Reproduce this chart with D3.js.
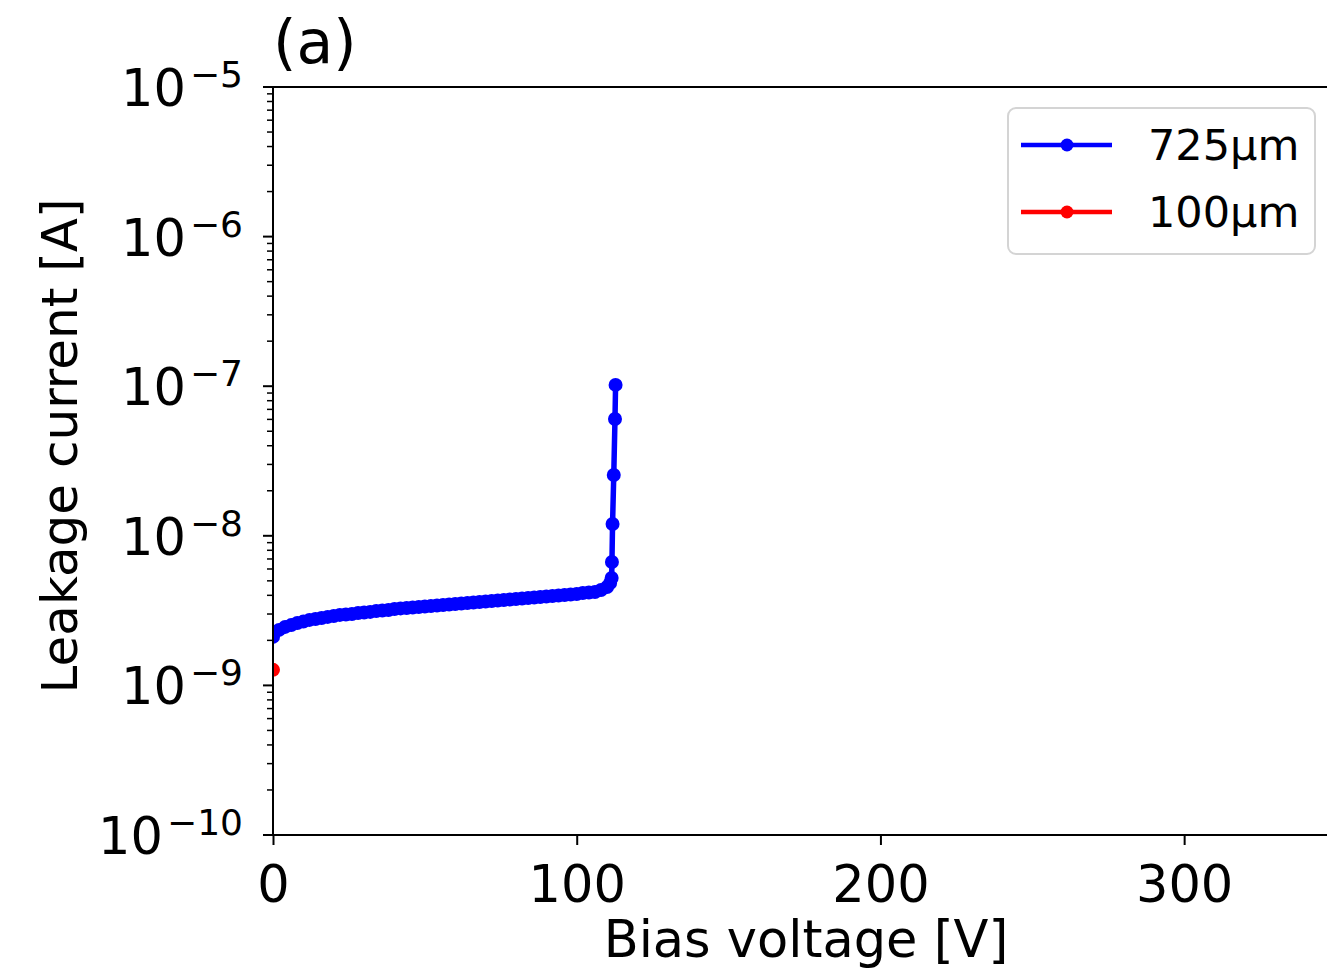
<!DOCTYPE html>
<html>
<head>
<meta charset="utf-8">
<script src="https://cdn.jsdelivr.net/npm/d3@7"></script>
<style>
  body { margin: 0; background: #fff; }
  text { font-family: "DejaVu Sans", sans-serif; fill: #000; }
</style>
</head>
<body>
<div id="chart"></div>
<script>
// values
let voltage725 = [0, 2, 4, 6, 8, 10, 12, 14, 16, 18, 20, 22, 24, 26, 28, 30, 32, 34, 36, 38,
  40, 42, 44, 46, 48, 50, 52, 54, 56, 58, 60, 62, 64, 66, 68, 70, 72, 74, 76, 78,
  80, 82, 84, 86, 88, 90, 92, 94, 96, 98, 100, 102, 104, 106, 108, 110, 111,
  111.5, 111.6, 111.8, 112.2, 112.6, 112.8];
let current725 = [2.11e-9, 2.35e-9, 2.46e-9, 2.53e-9, 2.61e-9, 2.67e-9, 2.74e-9, 2.78e-9, 2.82e-9, 2.87e-9,
  2.91e-9, 2.96e-9, 2.98e-9, 3.00e-9, 3.05e-9, 3.07e-9, 3.10e-9, 3.14e-9, 3.17e-9, 3.19e-9,
  3.24e-9, 3.27e-9, 3.29e-9, 3.32e-9, 3.34e-9, 3.37e-9, 3.39e-9, 3.42e-9, 3.45e-9, 3.47e-9,
  3.50e-9, 3.53e-9, 3.55e-9, 3.58e-9, 3.61e-9, 3.64e-9, 3.67e-9, 3.69e-9, 3.72e-9, 3.75e-9,
  3.78e-9, 3.81e-9, 3.84e-9, 3.87e-9, 3.90e-9, 3.93e-9, 3.96e-9, 3.99e-9, 4.02e-9, 4.05e-9,
  4.08e-9, 4.15e-9, 4.18e-9, 4.21e-9, 4.34e-9, 4.55e-9, 4.84e-9,
  5.22e-9, 6.68e-9, 1.20e-8, 2.55e-8, 6.04e-8, 1.02e-7];
let voltage100 = [0];
let current100 = [1.27e-9];

let seriesNames = ["725µm", "100µm"];
let seriesColors = ["#0000ff", "#ff0000"];
let xTicks = [0, 100, 200, 300];
let yDecades = [-10, -9, -8, -7, -6, -5];

let margin = { top: 87, left: 273, right: 0, bottom: 145 },
    width = 1063,
    height = 748;

let svg = d3.select("#chart").append("svg")
  .attr("width", 1327)
  .attr("height", 980);

let g = svg.append("g")
  .attr("transform", "translate(" + margin.left + "," + margin.top + ")");

let xScale = d3.scaleLinear().domain([0, 350]).range([0, width]);
let yScale = d3.scaleLog().domain([1e-10, 1e-5]).range([height, 0]);

g.append("clipPath").attr("id", "plotclip")
  .append("rect").attr("width", width).attr("height", height);

// data
let series = [
  { name: seriesNames[0], color: seriesColors[0], pts: voltage725.map((v, i) => [v, current725[i]]) },
  { name: seriesNames[1], color: seriesColors[1], pts: voltage100.map((v, i) => [v, current100[i]]) }
];

let line = d3.line()
  .x(d => xScale(d[0]))
  .y(d => yScale(d[1]));

let dataG = g.append("g").attr("clip-path", "url(#plotclip)");
series.forEach(s => {
  dataG.append("path")
    .datum(s.pts)
    .attr("d", line)
    .attr("fill", "none")
    .attr("stroke", s.color)
    .attr("stroke-width", 5.5)
    .attr("stroke-linejoin", "round");
  dataG.selectAll(null)
    .data(s.pts)
    .enter().append("circle")
    .attr("cx", d => xScale(d[0]))
    .attr("cy", d => yScale(d[1]))
    .attr("r", 7)
    .attr("fill", s.color);
});

// x axis
let xAxis = g.append("g")
  .attr("transform", "translate(0," + height + ")")
  .call(d3.axisBottom(xScale).tickValues(xTicks).tickSize(10).tickPadding(8).tickFormat(d3.format("d")));
xAxis.select(".domain").remove();
xAxis.selectAll(".tick line").attr("stroke", "#000").attr("stroke-width", 2);
xAxis.selectAll(".tick text")
  .attr("font-size", 51)
  .attr("font-family", "DejaVu Sans")
  .attr("dy", null)
  .attr("y", 67);

// y axis: major and minor ticks
let minor = [];
yDecades.slice(0, -1).forEach(e => {
  for (let k = 2; k <= 9; k++) minor.push(k * Math.pow(10, e));
});
g.append("g").selectAll("line")
  .data(minor)
  .enter().append("line")
  .attr("x1", -6).attr("x2", 0)
  .attr("y1", d => yScale(d)).attr("y2", d => yScale(d))
  .attr("stroke", "#000").attr("stroke-width", 1.5);

let yMajor = g.append("g").selectAll("g")
  .data(yDecades)
  .enter().append("g")
  .attr("transform", d => "translate(0," + yScale(Math.pow(10, d)) + ")");
yMajor.append("line")
  .attr("x1", -10).attr("x2", 0)
  .attr("stroke", "#000").attr("stroke-width", 2);
let yLab = yMajor.append("text")
  .attr("x", -30)
  .attr("y", 19)
  .attr("text-anchor", "end");
yLab.append("tspan").attr("font-size", 51).text("10");
yLab.append("tspan").attr("font-size", 36).attr("dx", 4).attr("dy", -19)
  .text(d => "\u2212" + Math.abs(d));

// spines (right one falls outside the picture)
g.append("rect")
  .attr("width", width).attr("height", height)
  .attr("fill", "none")
  .attr("stroke", "#000")
  .attr("stroke-width", 2);

// labels
svg.append("text")
  .attr("x", 806)
  .attr("y", 957)
  .attr("text-anchor", "middle")
  .attr("font-size", 51)
  .text("Bias voltage [V]");

svg.append("text")
  .attr("transform", "translate(77,446) rotate(-90)")
  .attr("text-anchor", "middle")
  .attr("font-size", 50)
  .text("Leakage current [A]");

svg.append("text")
  .attr("x", 273)
  .attr("y", 63)
  .attr("font-size", 60)
  .text("(a)");

// legend
let legend = svg.append("g").attr("transform", "translate(1008,108)");
legend.append("rect")
  .attr("width", 307).attr("height", 146)
  .attr("rx", 8)
  .attr("fill", "#fff").attr("fill-opacity", 0.8)
  .attr("stroke", "#d4d4d4").attr("stroke-width", 2);
let items = legend.selectAll(".item")
  .data(series)
  .enter().append("g")
  .attr("class", "item")
  .attr("transform", (d, i) => "translate(0," + (37 + i * 67) + ")");
items.append("line")
  .attr("x1", 13).attr("x2", 104)
  .attr("stroke", d => d.color).attr("stroke-width", 4.5);
items.append("circle")
  .attr("cx", 59).attr("r", 6.5)
  .attr("fill", d => d.color);
items.append("text")
  .attr("x", 140).attr("y", 15)
  .attr("font-size", 43)
  .text(d => d.name);
</script>
</body>
</html>
